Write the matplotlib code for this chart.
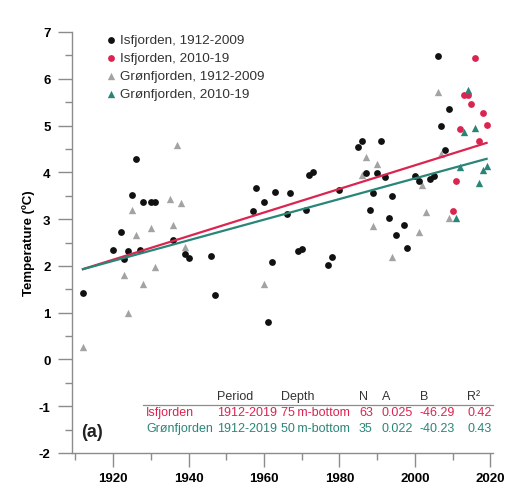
import matplotlib
matplotlib.use('Agg')
import matplotlib.pyplot as plt
from matplotlib.lines import Line2D
import numpy as np

plt.rcParams['font.family'] = ['Liberation Sans', 'DejaVu Sans']

# Isfjorden, 1912-2009 (black dots)
isf_years = [1912, 1920, 1922, 1923, 1924, 1925, 1926, 1927, 1928, 1930, 1931,
             1936, 1939, 1940, 1946, 1947, 1957, 1958, 1960, 1961, 1962, 1963,
             1966, 1967, 1969, 1970, 1971, 1972, 1973, 1977, 1978, 1980, 1985,
             1986, 1987, 1988, 1989, 1990, 1991, 1992, 1993, 1994, 1995, 1997,
             1998, 2000, 2001, 2004, 2005, 2006, 2007, 2008, 2009]
isf_temp = [1.43, 2.34, 2.73, 2.15, 2.31, 3.52, 4.29, 2.33, 3.37, 3.37, 3.37,
            2.56, 2.26, 2.17, 2.21, 1.38, 3.18, 3.67, 3.37, 0.80, 2.09, 3.57,
            3.10, 3.55, 2.31, 2.36, 3.20, 3.95, 4.00, 2.01, 2.19, 3.63, 4.54,
            4.68, 3.98, 3.20, 3.55, 3.98, 4.66, 3.90, 3.03, 3.50, 2.66, 2.88,
            2.39, 3.92, 3.81, 3.86, 3.93, 6.48, 4.98, 4.48, 5.36]

# Isfjorden, 2010-19 (red dots)
isf_new_years = [2010, 2011, 2012, 2013, 2014, 2015, 2016, 2017, 2018, 2019]
isf_new_temp = [3.18, 3.82, 4.93, 5.65, 5.65, 5.46, 6.44, 4.66, 5.26, 5.01]

# Grønfjorden, 1912-2009 (gray triangles)
gro_years = [1912, 1923, 1924, 1925, 1926, 1928, 1930, 1931, 1935, 1936, 1937,
             1938, 1939, 1960, 1986, 1987, 1989, 1990, 1994, 2001, 2002, 2003,
             2006, 2007, 2009]
gro_temp = [0.27, 1.80, 1.00, 3.19, 2.66, 1.62, 2.80, 1.98, 3.42, 2.88, 4.59,
            3.35, 2.41, 1.62, 3.94, 4.32, 2.86, 4.18, 2.19, 2.72, 3.72, 3.15,
            5.72, 4.40, 3.03]

# Grønfjorden, 2010-19 (teal triangles)
gro_new_years = [2011, 2012, 2013, 2014, 2016, 2017, 2018, 2019]
gro_new_temp = [3.03, 4.12, 4.86, 5.76, 4.94, 3.77, 4.05, 4.14]

# regression lines T = A*year + B
fit_years = [1912, 2019]
isf_A, isf_B = 0.02522, -46.29
gro_A, gro_B = 0.02205, -40.23

# table
tab_header = ['Period', 'Depth', 'N', 'A', 'B', 'R²']
tab_isf = ['Isfjorden', '1912-2019', '75\u2009m-bottom', '63', '0.025', '-46.29', '0.42']
tab_gro = ['Grønfjorden', '1912-2019', '50\u2009m-bottom', '35', '0.022', '-40.23', '0.43']

red = '#dc2450'
teal = '#2a8579'
gray = '#a3a3a3'
axcol = '#8c8c8c'

W, H = 526, 502
fig = plt.figure(figsize=(W / 100, H / 100), dpi=100)
ax = fig.add_axes([72 / W, 1 - 454 / H, 421 / W, 421 / H])

ax.scatter(isf_years, isf_temp, s=24, color='#111111', lw=0,
           label='Isfjorden, 1912-2009', zorder=3)
ax.scatter(isf_new_years, isf_new_temp, s=24, color=red, lw=0,
           label='Isfjorden, 2010-19', zorder=3)
ax.scatter(gro_years, gro_temp, s=28, marker='^', color=gray, lw=0,
           label='Grønfjorden, 1912-2009', zorder=2)
ax.scatter(gro_new_years, gro_new_temp, s=28, marker='^', color=teal, lw=0,
           label='Grønfjorden, 2010-19', zorder=3)

fy = np.array(fit_years)
ax.plot(fy, isf_A * fy + isf_B, color=red, lw=1.6, zorder=4)
ax.plot(fy, gro_A * fy + gro_B, color=teal, lw=1.6, zorder=4)

ax.set_xlim(1909.1, 2020.7)
ax.set_ylim(-2, 7)
ax.set_xticks([1920, 1940, 1960, 1980, 2000, 2020])
ax.set_xticks(np.arange(1910, 2021, 10), minor=True)
ax.set_yticks(np.arange(-2, 8, 1))
ax.set_yticks(np.arange(-2, 7.1, 0.5), minor=True)
ax.set_yticklabels([str(v) for v in range(-2, 8)])

for s in ['top', 'right']:
    ax.spines[s].set_visible(False)
for s in ['left', 'bottom']:
    ax.spines[s].set_color(axcol)
    ax.spines[s].set_linewidth(1.0)

ax.tick_params(which='major', direction='out', length=10, width=1, color=axcol,
               labelsize=9.5)
ax.tick_params(which='minor', direction='out', length=5, width=1, color=axcol)
ax.tick_params(axis='y', which='major', pad=5.5)
ax.tick_params(axis='x', which='major', pad=3.5)
for lab in ax.get_xticklabels() + ax.get_yticklabels():
    lab.set_fontweight('bold')

ax.set_ylabel('Temperature (ºC)', fontsize=9.5, fontweight='bold', labelpad=3)

leg = ax.legend(loc='upper left', bbox_to_anchor=(96 / W, 1 - 28 / H),
                bbox_transform=fig.transFigure, frameon=False, fontsize=9.7,
                handletextpad=0.1, labelspacing=0.42, handlelength=1.2,
                borderpad=0)
for t in leg.get_texts():
    t.set_color('#333333')

# table of fits
col_x = [146, 217, 281, 359, 382, 420, 467]
row_y = [397, 413, 429]
for x, txt in zip(col_x[1:], tab_header):
    fig.text(x / W, 1 - row_y[0] / H, txt, fontsize=9, color='#333333',
             va='center', ha='left')
for x, txt in zip(col_x, tab_isf):
    fig.text(x / W, 1 - row_y[1] / H, txt, fontsize=9, color=red,
             va='center', ha='left')
for x, txt in zip(col_x, tab_gro):
    fig.text(x / W, 1 - row_y[2] / H, txt, fontsize=9, color=teal,
             va='center', ha='left')
fig.add_artist(Line2D([143 / W, 493 / W], [1 - 405.5 / H, 1 - 405.5 / H],
                      transform=fig.transFigure, color=axcol, lw=0.9))

fig.text(81 / W, 1 - 433 / H, '(a)', fontsize=13, fontweight='bold',
         va='center', ha='left', color='#222222')

fig.savefig('out.png', dpi=100)
